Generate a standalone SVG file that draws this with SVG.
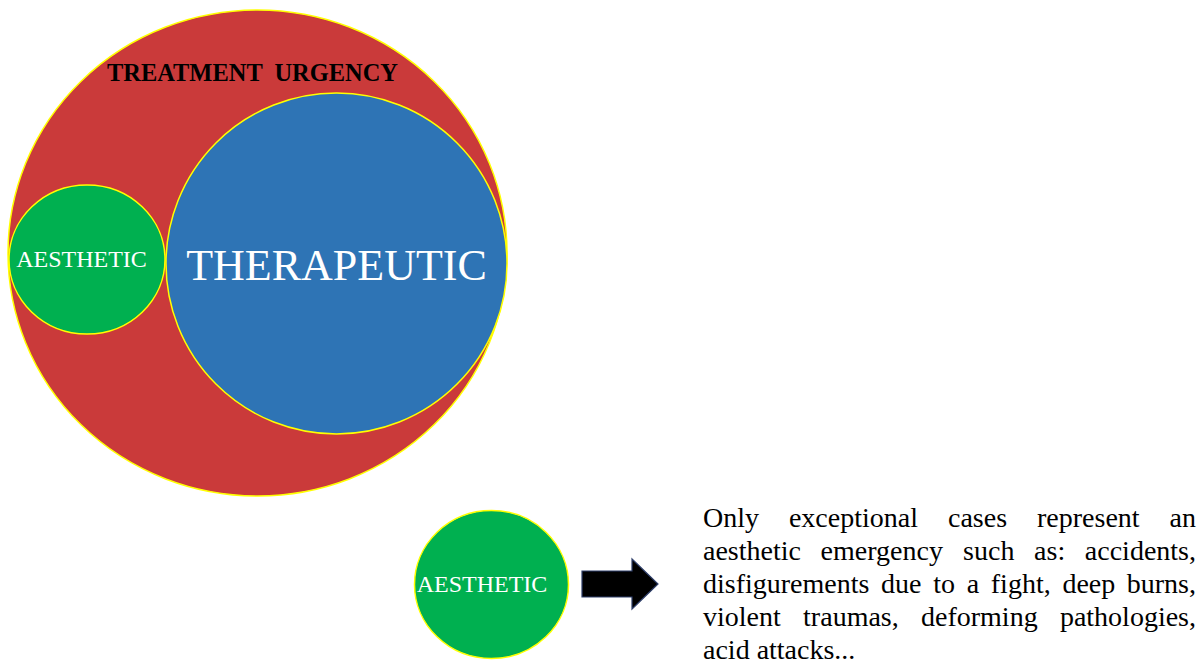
<svg xmlns="http://www.w3.org/2000/svg" width="1204" height="664" viewBox="0 0 1204 664">
<style>
.circ{stroke:#FFFF00;stroke-width:1.5}
.red{fill:#CA3A3A}
.blue{fill:#2E74B5}
.green{fill:#00B050}
.lbl{font-family:"Liberation Serif","Times New Roman",serif;fill:#FFFFFF}
.para{font-family:"Liberation Serif","Times New Roman",serif;font-size:28px;fill:#000000}
</style>
<rect width="1204" height="664" fill="#FFFFFF"/>
<g id="urgency">
<ellipse class="circ red" cx="257.5" cy="253" rx="249.5" ry="243"/>
<text x="107" y="81" font-family="Liberation Serif, Times New Roman, serif" font-weight="bold" font-size="26" textLength="291" lengthAdjust="spacingAndGlyphs" fill="#000000" xml:space="preserve">TREATMENT  URGENCY</text>
</g>
<g id="aesthetic-inner">
<ellipse class="circ green" cx="87" cy="259.5" rx="78" ry="74.5"/>
<text class="lbl" x="81.5" y="267" font-size="24" text-anchor="middle">AESTHETIC</text>
</g>
<g id="therapeutic">
<ellipse class="circ blue" cx="336.5" cy="263.5" rx="170.5" ry="170.5"/>
<text class="lbl" x="336.5" y="280" font-size="44" text-anchor="middle">THERAPEUTIC</text>
</g>
<g id="aesthetic-outer">
<ellipse class="circ green" cx="491.5" cy="584.5" rx="77" ry="74"/>
<text class="lbl" x="482" y="592" font-size="24" text-anchor="middle">AESTHETIC</text>
</g>
<g id="connectors">
<polygon points="582,571 632,571 632,559 658,584 632,609 632,597 582,597" fill="#000000" stroke="#2F3F6A" stroke-width="1.2"/>
</g>
<g id="description">
<text class="para" y="527"><tspan x="703">Only</tspan><tspan x="788.9">exceptional</tspan><tspan x="948">cases</tspan><tspan x="1037">represent</tspan><tspan x="1196" text-anchor="end">an</tspan></text>
<text class="para" y="560"><tspan x="703">aesthetic</tspan><tspan x="820.6">emergency</tspan><tspan x="963.1">such</tspan><tspan x="1034.1">as:</tspan><tspan x="1196" text-anchor="end">accidents,</tspan></text>
<text class="para" y="593"><tspan x="703">disfigurements</tspan><tspan x="881.1">due</tspan><tspan x="933.2">to</tspan><tspan x="966.7">a</tspan><tspan x="990.8">fight,</tspan><tspan x="1062.4">deep</tspan><tspan x="1196" text-anchor="end">burns,</tspan></text>
<text class="para" y="626"><tspan x="703">violent</tspan><tspan x="803.1">traumas,</tspan><tspan x="921">deforming</tspan><tspan x="1196" text-anchor="end">pathologies,</tspan></text>
<text class="para" x="703" y="659">acid attacks...</text>
</g>
</svg>
